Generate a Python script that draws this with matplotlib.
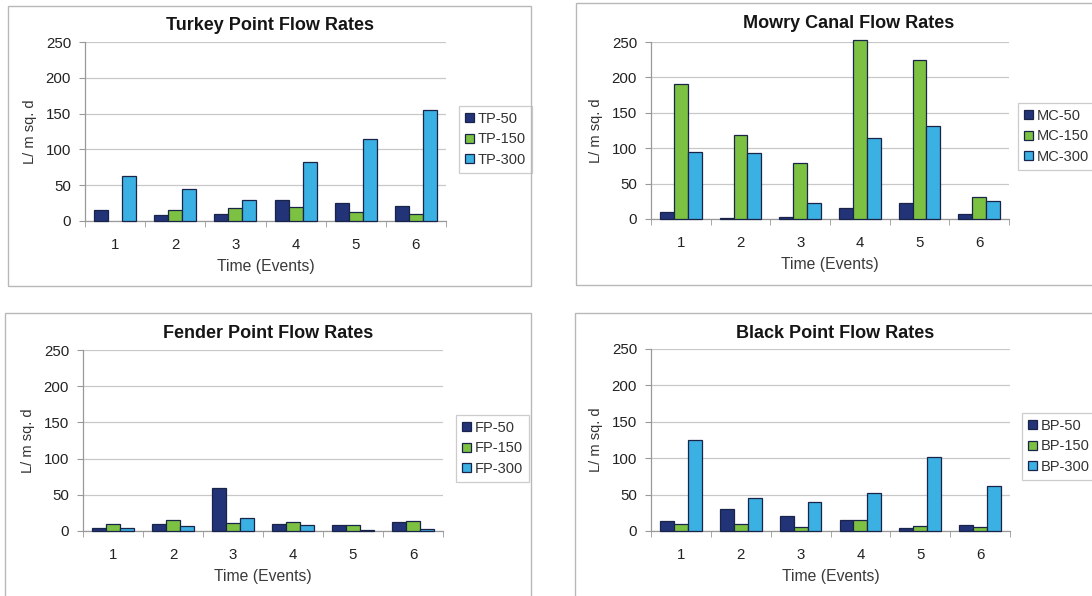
import numpy as np
import matplotlib
matplotlib.use("Agg")
import matplotlib.pyplot as plt
from matplotlib.patches import Rectangle, Patch

plt.rcParams['font.family'] = ['Liberation Sans', 'DejaVu Sans']

events = [1, 2, 3, 4, 5, 6]
yticks = [0, 50, 100, 150, 200, 250]

# Turkey Point
tp_labels = ["TP-50", "TP-150", "TP-300"]
tp_50 = [16, 9, 10, 29, 25, 21]
tp_150 = [0, 15, 18, 19, 12, 10]
tp_300 = [63, 44, 29, 83, 114, 155]

# Mowry Canal
mc_labels = ["MC-50", "MC-150", "MC-300"]
mc_50 = [10, 1.5, 3, 15.5, 23, 6.5]
mc_150 = [191, 118, 79, 253, 225, 31.5]
mc_300 = [94, 93, 22, 114, 132, 25]

# Fender Point
fp_labels = ["FP-50", "FP-150", "FP-300"]
fp_50 = [4.6, 9, 59, 10, 8.7, 12.4]
fp_150 = [9, 15.7, 11, 13, 8.7, 14.3]
fp_300 = [3.7, 7, 17.5, 8.7, 2, 3.2]

# Black Point
bp_labels = ["BP-50", "BP-150", "BP-300"]
bp_50 = [14, 30, 21, 15, 4.6, 8]
bp_150 = [10, 9, 6, 15, 7, 6]
bp_300 = [125, 46, 39.5, 52, 101, 62]

colors = ["#223377", "#7cc142", "#3bb0e3"]
edge = "#1a2448"

W, H = 1092, 596
fig = plt.figure(figsize=(W / 100, H / 100), dpi=100)


def fx(px):
    return px / W


def fy(py):
    return 1 - py / H


def panel(frame, axbox, legbox, title, title_y, labels, series):
    # frame: (x0, y0, x1, y1) in pixels; axbox: (left, top, right, bottom)
    fx0, fy0, fx1, fy1 = frame
    fig.patches.append(Rectangle((fx(fx0), fy(fy1)), fx(fx1 - fx0), (fy1 - fy0) / H,
                                 transform=fig.transFigure, fill=False,
                                 edgecolor="#b8b8b8", linewidth=1.0, zorder=0))
    fig.text(fx((fx0 + fx1) / 2), fy(title_y), title, fontsize=13,
             fontweight="bold", color="#151515", ha="center", va="center")
    l, t, r, b = axbox
    ax = fig.add_axes([fx(l), fy(b), fx(r - l), (b - t) / H])
    n = len(series)
    w = 1 / (n + 1.3)
    x = np.array(events, dtype=float)
    for i, (vals, c) in enumerate(zip(series, colors)):
        vals = np.asarray(vals, dtype=float)
        keep = vals > 0
        ax.bar(x[keep] + (i - 1) * w, vals[keep], width=w, color=c, edgecolor=edge,
               linewidth=0.9, zorder=3, clip_on=False)
    ax.set_xlim(0.5, 6.5)
    ax.set_ylim(0, 250)
    ax.set_yticks(yticks)
    ax.set_xticks(events)
    ax.set_xticks(np.arange(0.5, 7, 1), minor=True)
    ax.tick_params(axis='x', which='major', length=0, pad=12, labelsize=10.8,
                   labelcolor="#222222")
    ax.tick_params(axis='x', which='minor', length=4, color="#999999")
    ax.tick_params(axis='y', length=4, color="#999999", pad=6, labelsize=10.8,
                   labelcolor="#222222")
    ax.grid(axis='y', color="#c8c8c8", linewidth=0.9, zorder=0)
    ax.set_axisbelow(True)
    for s in ("top", "right"):
        ax.spines[s].set_visible(False)
    for s in ("left", "bottom"):
        ax.spines[s].set_color("#999999")
        ax.spines[s].set_linewidth(0.9)
    ax.set_xlabel("Time (Events)", fontsize=11.3, color="#3a3a3a", labelpad=5)
    ax.set_ylabel("L/ m sq. d", fontsize=10.5, color="#333333", labelpad=6)
    handles = [Patch(facecolor=c, edgecolor=edge, linewidth=0.9) for c in colors]
    lx0, ly0 = legbox
    leg = ax.legend(handles, labels, loc="upper left",
                    bbox_to_anchor=(fx(lx0), fy(ly0)), bbox_transform=fig.transFigure,
                    fontsize=10.5, frameon=True, fancybox=False,
                    handlelength=0.6, handleheight=0.6, handletextpad=0.3,
                    labelspacing=0.45, borderpad=0.4, borderaxespad=0)
    leg.get_frame().set_edgecolor("#c0c0c0")
    leg.get_frame().set_linewidth(0.9)
    for txt in leg.get_texts():
        txt.set_color("#333333")
    return ax


panel((8, 6, 531, 286), (85, 42, 446, 221), (459, 106),
      "Turkey Point Flow Rates", 25, tp_labels, [tp_50, tp_150, tp_300])
panel((576, 3, 1122, 285), (651, 42, 1009, 219), (1018, 103),
      "Mowry Canal Flow Rates", 24, mc_labels, [mc_50, mc_150, mc_300])
panel((5, 313, 531, 604), (83, 350, 443, 531), (456, 415),
      "Fender Point Flow Rates", 334, fp_labels, [fp_50, fp_150, fp_300])
panel((575, 313, 1095, 604), (651, 349, 1010, 531), (1022, 413),
      "Black Point Flow Rates", 333, bp_labels, [bp_50, bp_150, bp_300])

fig.savefig("out.png", dpi=100, facecolor="white")
